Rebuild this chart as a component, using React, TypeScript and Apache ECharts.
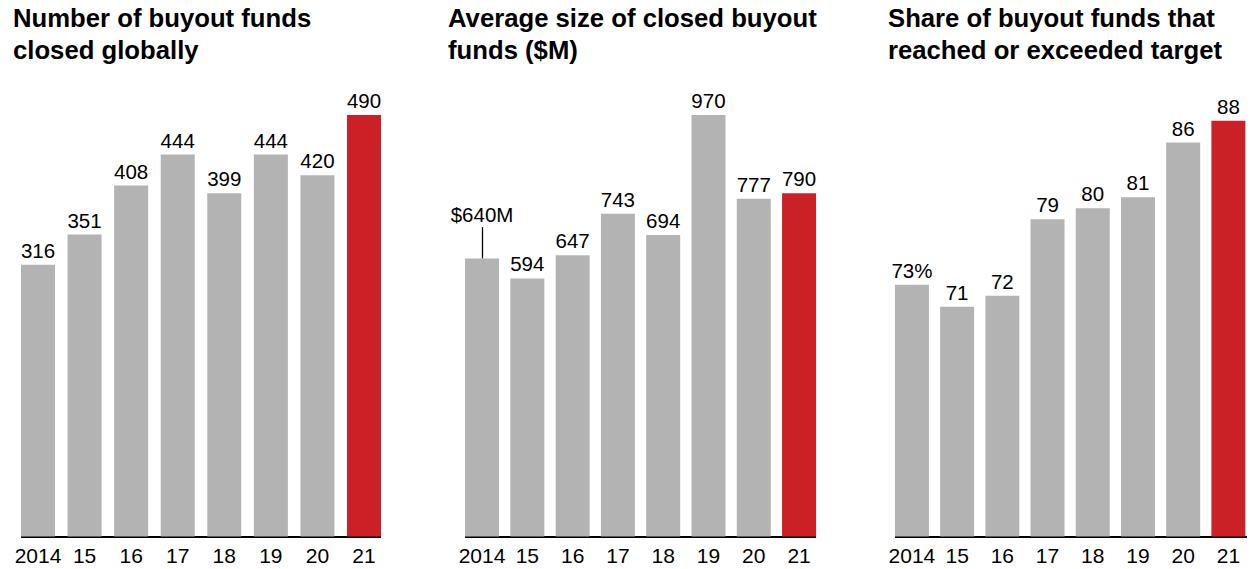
import React, { useEffect, useRef } from "react";
import * as echarts from "echarts";

const categories = ["2014", "15", "16", "17", "18", "19", "20", "21"];
const fundsClosed = [316, 351, 408, 444, 399, 444, 420, 490];
const avgFundSize = [640, 594, 647, 743, 694, 970, 777, 790];
const shareReachedTarget = [73, 71, 72, 79, 80, 81, 86, 88];

const titles = [
  "Number of buyout funds\nclosed globally",
  "Average size of closed buyout\nfunds ($M)",
  "Share of buyout funds that\nreached or exceeded target",
];
const firstLabels = ["316", "$640M", "73%"];
const leaderTop = 712; // value at which the $640M leader line ends

const GRAY = "#b3b3b3";
const RED = "#cc2027";
const FONT = "'Liberation Sans', Arial, Helvetica, sans-serif";

export default function App() {
  const ref = useRef<HTMLDivElement>(null);
  useEffect(() => {
    if (!ref.current) return;
    const chart = echarts.init(ref.current, null, { renderer: "svg" });
    const barW = 34;
    const bottomY = 536.5;
    const panels = [
      { left: 14.7, width: 372.6, top: 115, min: 0, max: 490, data: fundsClosed, titleX: 13 },
      { left: 459.4, width: 362.3, top: 115, min: 0, max: 970, data: avgFundSize, titleX: 448 },
      { left: 889.3, width: 363.4, top: 120.7, min: 50, max: 88, data: shareReachedTarget, titleX: 888 },
    ];
    const grid = panels.map((p) => ({
      left: p.left,
      width: p.width,
      top: p.top,
      height: bottomY - p.top,
      containLabel: false,
    }));
    const xAxis = panels.map((_, i) => ({
      type: "category",
      gridIndex: i,
      data: categories,
      axisLine: { show: false },
      axisTick: { show: false },
      axisLabel: { interval: 0, fontSize: 21, color: "#000", fontFamily: FONT, margin: 8 },
    }));
    const yAxis = panels.map((p, i) => ({
      type: "value",
      gridIndex: i,
      min: p.min,
      max: p.max,
      show: false,
      splitLine: { show: false },
    }));
    const series = panels.map((p, i) => ({
      type: "bar",
      xAxisIndex: i,
      yAxisIndex: i,
      barWidth: barW,
      data: p.data.map((v, j) => ({
        value: v,
        itemStyle: { color: j === p.data.length - 1 ? RED : GRAY },
        label:
          j === 0
            ? { formatter: firstLabels[i], distance: i === 1 ? 33 : 4 }
            : undefined,
      })),
      label: {
        show: true,
        position: "top",
        distance: 4,
        fontSize: 20.5,
        color: "#000",
        fontFamily: FONT,
      },
      markLine:
        i === 1
          ? {
              silent: true,
              symbol: "none",
              label: { show: false },
              lineStyle: { color: "#000", width: 1.3, type: "solid" },
              data: [[{ coord: [0, p.data[0]] }, { coord: [0, leaderTop] }]],
            }
          : undefined,
    }));
    const graphic: any[] = [];
    panels.forEach((p) => {
      const w = p.width / categories.length;
      const pad = (w - barW) / 2;
      graphic.push({
        type: "line",
        shape: { x1: p.left + pad, y1: bottomY + 0.5, x2: p.left + p.width - pad, y2: bottomY + 0.5 },
        style: { stroke: "#000", lineWidth: 2 },
        silent: true,
      });
    });
    const title = panels.map((p, i) => ({
      text: titles[i],
      left: p.titleX,
      top: 2,
      padding: 0,
      textStyle: {
        fontSize: 25.7,
        fontWeight: "bold",
        color: "#000",
        fontFamily: FONT,
        lineHeight: 32,
      },
    }));
    chart.setOption({
      animation: false,
      backgroundColor: "#fff",
      title,
      grid,
      xAxis,
      yAxis,
      series,
      graphic,
    } as any);
    return () => chart.dispose();
  }, []);
  return (
    <div
      ref={ref}
      style={{ position: "fixed", left: 0, top: 0, width: 1251, height: 569 }}
    />
  );
}
